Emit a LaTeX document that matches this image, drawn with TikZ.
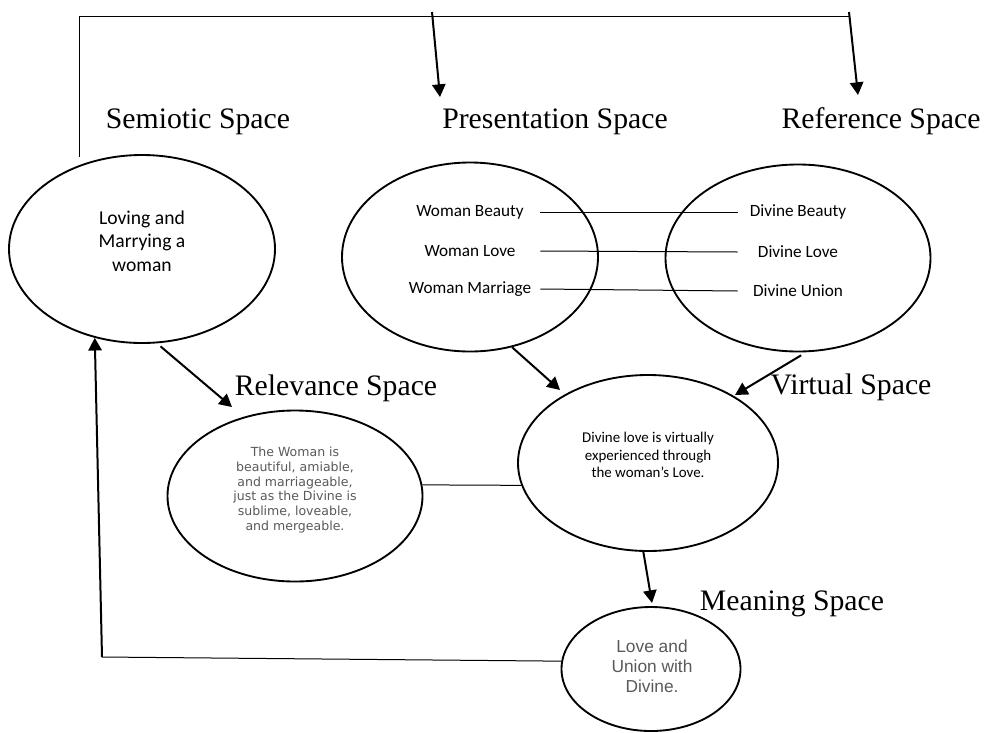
\documentclass[tikz,border=0pt]{standalone}
\usepackage{fontspec}
\setmainfont{Liberation Serif}
\newfontfamily\calibrifont{Carlito}
\newfontfamily\verdanafont{DejaVu Sans}
\newfontfamily\arialfont{Liberation Sans}
\usepackage{xcolor}
\usepackage{tikz}
\usetikzlibrary{arrows.meta,shapes.geometric}

\definecolor{greytext}{HTML}{595959}

\tikzset{
  spaceoval/.style={ellipse,draw,line width=1.4pt,inner sep=0pt},
  spacelabel/.style={anchor=base,inner sep=0pt,font=\fontsize{22.3}{26}\selectfont},
  itemtxt/.style={inner sep=0pt,font=\calibrifont\fontsize{12.9}{15}\selectfont},
  joinline/.style={line width=0.75pt},
  flowarrow/.style={line width=1.5pt,-{Triangle[length=9.5pt,width=10pt]}},
}

\begin{document}
\begin{tikzpicture}[x=0.75pt,y=0.75pt,yscale=-1,xscale=1]
\useasboundingbox (0,0) rectangle (984,732);
%Shape: Ellipse [id:semiotic]
\node (semiotic) at (142,249) [spaceoval,minimum width=199.5pt,minimum height=141pt] {};
%Shape: Ellipse [id:presentation]
\node (presentation) at (470,257) [spaceoval,minimum width=192pt,minimum height=141.75pt] {};
%Shape: Ellipse [id:reference]
\node (reference) at (798,258) [spaceoval,minimum width=198.75pt,minimum height=140.25pt] {};
%Shape: Ellipse [id:relevance]
\node (relevance) at (295,496) [spaceoval,minimum width=191.25pt,minimum height=128.25pt] {};
%Shape: Ellipse [id:virtual]
\node (virtual) at (648,463) [spaceoval,minimum width=195pt,minimum height=132pt] {};
%Shape: Ellipse [id:meaning]
\node (meaning) at (651,669) [spaceoval,minimum width=134.25pt,minimum height=93pt] {};

% Text Node
\node (semioticLbl) at (198,128) [spacelabel] {Semiotic Space};
% Text Node
\node (presentationLbl) at (555,128) [spacelabel] {Presentation Space};
% Text Node
\node (referenceLbl) at (881,128) [spacelabel] {Reference Space};
% Text Node
\node (relevanceLbl) at (336,395) [spacelabel] {Relevance Space};
% Text Node
\node (virtualLbl) at (851,394) [spacelabel] {Virtual Space};
% Text Node
\node (meaningLbl) at (792,610) [spacelabel] {Meaning Space};

% Text Node
\node (semioticTxt) at (142,241) [align=center,font=\calibrifont\fontsize{14.7}{17.6}\selectfont] {Loving and\\Marrying a\\woman};
% Text Node
\node (relevanceTxt) at (295,490) [align=center,text=greytext,font=\verdanafont\fontsize{9.4}{11}\selectfont] {The Woman is\\beautiful, amiable,\\and marriageable,\\just as the Divine is\\sublime, loveable,\\and mergeable.};
% Text Node
\node (virtualTxt) at (648,455) [align=center,font=\calibrifont\fontsize{11.2}{13.1}\selectfont] {Divine love is virtually\\experienced through\\the woman’s Love.};
% Text Node
\node (meaningTxt) at (652,666) [align=center,text=greytext,font=\arialfont\fontsize{13}{15}\selectfont] {Love and\\Union with\\Divine.};

% Text Node
\node (womanBeauty) at (470,212) [itemtxt,minimum width=105pt] {Woman Beauty};
\node (womanLove) at (470,251) [itemtxt,minimum width=105pt] {Woman Love};
\node (womanMarriage) at (470,289) [itemtxt,minimum width=105pt] {Woman Marriage};
% Text Node
\node (divineBeauty) at (798,212) [itemtxt,minimum width=90pt] {Divine Beauty};
\node (divineLove) at (798,252) [itemtxt,minimum width=90pt] {Divine Love};
\node (divineUnion) at (798,291) [itemtxt,minimum width=90pt] {Divine Union};

%Straight Lines
\draw [joinline] (womanBeauty.east) -- (divineBeauty.west);
\draw [joinline] (womanLove.east) -- (divineLove.west);
\draw [joinline] (womanMarriage.east) -- (divineUnion.west);

%Straight Lines
\coordinate (bracketFoot) at (79,157);
\coordinate (bracketL) at (79,16);
\coordinate (bracketR) at (849,16);
\draw [joinline] (bracketFoot) -- (bracketL) -- (bracketR);
\coordinate (presDrop) at (432,12);
\coordinate (presTip) at (440,97);
\draw [flowarrow] (presDrop) -- (presTip);
\coordinate (refDrop) at (849,12);
\coordinate (refTip) at (858,95);
\draw [flowarrow] (refDrop) -- (refTip);

%Straight Lines
\coordinate (relevanceIn) at (232,407);
\draw [flowarrow,shorten <=3.5pt] (semiotic.-81) -- (relevanceIn);
\coordinate (virtualInL) at (560,390);
\draw [flowarrow] (presentation.-65) -- (virtualInL);
\coordinate (virtualInR) at (735,395);
\draw [flowarrow,shorten <=4.5pt] (reference.-85) -- (virtualInR);
\draw [joinline] (relevance.5) -- (virtual.190);
\coordinate (meaningIn) at (652,603);
\draw [flowarrow] (virtual.-93) -- (meaningIn);

%Straight Lines
\coordinate (feedbackCorner) at (102,657);
\draw [joinline] (meaning.175) -- (feedbackCorner);
\draw [flowarrow] (feedbackCorner) -- (semiotic.-118);
\end{tikzpicture}
\end{document}
